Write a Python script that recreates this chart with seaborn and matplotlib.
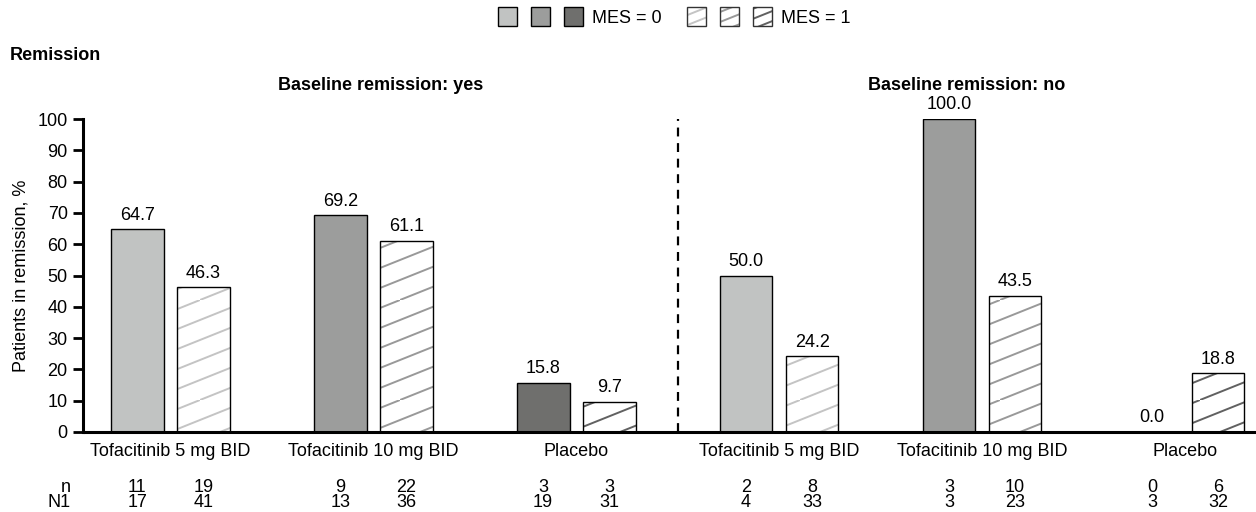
import matplotlib
matplotlib.use("Agg")
import numpy as np
import matplotlib.pyplot as plt
import matplotlib.hatch as mhatch
import matplotlib.transforms as mtransforms
from matplotlib.path import Path
from matplotlib.patches import Patch, Rectangle
from matplotlib.legend_handler import HandlerTuple
import pandas as pd
import seaborn as sns

# ---- data -------------------------------------------------------------
baseline = ["yes", "yes", "yes", "no", "no", "no"]
treatment = ["Tofacitinib 5 mg BID", "Tofacitinib 10 mg BID", "Placebo",
             "Tofacitinib 5 mg BID", "Tofacitinib 10 mg BID", "Placebo"]
mes0_pct = [64.7, 69.2, 15.8, 50.0, 100.0, 0.0]
mes1_pct = [46.3, 61.1, 9.7, 24.2, 43.5, 18.8]
mes0_n = [11, 9, 3, 2, 3, 0]
mes0_N1 = [17, 13, 19, 4, 3, 3]
mes1_n = [19, 22, 3, 8, 10, 6]
mes1_N1 = [41, 36, 31, 33, 23, 32]
mes_levels = ["MES = 0", "MES = 1"]
panel_titles = ["Baseline remission: yes", "Baseline remission: no"]


# ---- shallow diagonal hatch ('/' drawn at a low angle) --------------------
class ShallowDiagonalHatch(mhatch.HatchPatternBase):
    """'/' hatch with lines rising 2/5 of a tile per tile width, 5 per tile."""

    LINES = 5
    RISE = 2  # in units of 1/LINES

    def __init__(self, hatch, density):
        self.segments = []
        if hatch.count("/") == 0:
            self.num_vertices = 0
            return
        n = self.LINES * hatch.count("/")
        rise = self.RISE / n * hatch.count("/")
        for i in range(n):
            a = i / n
            b = a + rise
            if b <= 1.0 + 1e-9:
                self.segments.append(((0.0, a), (1.0, b)))
            else:
                xc = (1.0 - a) / rise
                self.segments.append(((0.0, a), (xc, 1.0)))
                self.segments.append(((xc, 0.0), (1.0, b - 1.0)))
        self.num_vertices = 2 * len(self.segments)

    def set_vertices_and_codes(self, vertices, codes):
        for k, (p0, p1) in enumerate(self.segments):
            vertices[2 * k] = p0
            vertices[2 * k + 1] = p1
        codes[0::2] = Path.MOVETO
        codes[1::2] = Path.LINETO


mhatch._hatch_types[:] = [
    ShallowDiagonalHatch if t is mhatch.NorthEastHatch else t
    for t in mhatch._hatch_types
]

# ---- styling ------------------------------------------------------------
solid_colors = ["#c1c3c2", "#9c9d9c", "#6f6f6d"]
hatch_colors = ["#c4c4c4", "#999999", "#616161"]

sns.set_style("ticks")
plt.rcParams["font.family"] = ["Liberation Sans", "DejaVu Sans"]
plt.rcParams.update({
    "text.color": "black", "axes.labelcolor": "black",
    "xtick.color": "black", "ytick.color": "black",
    "axes.edgecolor": "black", "hatch.linewidth": 1.4,
})
FS = 13

groups = [f"{b}: {t}" for b, t in zip(baseline, treatment)]
df = pd.DataFrame({
    "group": groups * 2,
    "mes": [mes_levels[0]] * 6 + [mes_levels[1]] * 6,
    "pct": mes0_pct + mes1_pct,
})

fig = plt.figure(figsize=(12.56, 5.12), dpi=100)
ax = fig.add_axes([83 / 1256, 1 - 432 / 512, 1 - 83 / 1256, 313 / 512])

sns.barplot(data=df, x="group", y="pct", hue="mes", order=groups,
            hue_order=mes_levels, width=0.65, gap=0.2, dodge=True,
            errorbar=None, legend=False, ax=ax)

bars0, bars1 = ax.containers[0], ax.containers[1]
for i, p in enumerate(bars0):
    p.set_facecolor(solid_colors[i % 3])
    p.set_edgecolor("black")
    p.set_linewidth(1.0)
for i, p in enumerate(bars1):
    p.set_facecolor("white")
    p.set_edgecolor(hatch_colors[i % 3])
    p.set_hatch("/")
    p.set_linewidth(0)
    # black outline over the hatched bar
    ax.add_patch(Rectangle((p.get_x(), p.get_y()), p.get_width(), p.get_height(),
                           fill=False, edgecolor="black", linewidth=1.0,
                           zorder=p.get_zorder() + 0.1))

ax.bar_label(bars0, labels=[f"{v:.1f}" for v in mes0_pct], padding=4, fontsize=FS)
ax.bar_label(bars1, labels=[f"{v:.1f}" for v in mes1_pct], padding=4, fontsize=FS)

# ---- axes -----------------------------------------------------------------
ax.set_ylim(0, 100)
ax.set_xlim(-0.43, 5.35)
ax.set_yticks(range(0, 101, 10))
ax.set_xticks(range(len(groups)))
ax.set_xticklabels(treatment)
ax.set_xlabel("")
ax.set_ylabel("Patients in remission, %", fontsize=FS, labelpad=6)
ax.tick_params(axis="y", length=7, width=2, pad=4, labelsize=FS, direction="out")
ax.tick_params(axis="x", length=0, pad=8, labelsize=FS)
for side in ["top", "right"]:
    ax.spines[side].set_visible(False)
ax.spines["left"].set_linewidth(2.2)
ax.spines["bottom"].set_linewidth(2.2)
ax.spines["bottom"].set_capstyle("butt")
ax.patch.set_alpha(0)

# panel divider
ax.vlines(2.5, 0, 100, colors="black", linestyles=(0, (4, 3)), linewidth=1.6)

# ---- n / N1 rows below the axis --------------------------------------------
trans = mtransforms.blended_transform_factory(ax.transData, ax.transAxes)
row_y = {"n": -0.176, "N1": -0.224}
ax.text(-0.49, row_y["n"], "n", transform=trans, ha="right", va="center", fontsize=FS)
ax.text(-0.49, row_y["N1"], "N1", transform=trans, ha="right", va="center", fontsize=FS)
for bars, ns, n1s in [(bars0, mes0_n, mes0_N1), (bars1, mes1_n, mes1_N1)]:
    for p, n, n1 in zip(bars, ns, n1s):
        cx = p.get_x() + p.get_width() / 2
        ax.text(cx, row_y["n"], str(n), transform=trans, ha="center", va="center", fontsize=FS)
        ax.text(cx, row_y["N1"], str(n1), transform=trans, ha="center", va="center", fontsize=FS)

# ---- titles ------------------------------------------------------------------
fig.text(10 / 1256, 1 - 55 / 512, "Remission", fontsize=FS, fontweight="bold",
         ha="left", va="center")
xl, xr = ax.get_xlim()
title_trans = mtransforms.blended_transform_factory(ax.transData, fig.transFigure)
fig.text((xl + 2.5) / 2, 1 - 85 / 512, panel_titles[0], fontsize=FS, fontweight="bold",
         ha="center", va="center", transform=title_trans)
fig.text((2.5 + xr) / 2, 1 - 85 / 512, panel_titles[1], fontsize=FS, fontweight="bold",
         ha="center", va="center", transform=title_trans)


# ---- legend --------------------------------------------------------------------
class Stack(tuple):
    """Handles drawn on top of each other inside one legend slot."""


solid_handles = tuple(Patch(facecolor=c, edgecolor="black", linewidth=1.0) for c in solid_colors)
hatched_handles = tuple(
    Stack((Patch(facecolor="white", edgecolor=c, hatch="//", linewidth=0),
           Patch(facecolor="none", edgecolor="#333333", linewidth=1.0)))
    for c in hatch_colors)
fig.legend([solid_handles, hatched_handles], mes_levels,
           handler_map={Stack: HandlerTuple(ndivide=1, pad=0),
                        tuple: HandlerTuple(ndivide=None, pad=0.78)},
           loc="center", bbox_to_anchor=(0.537, 1 - 17 / 512), ncol=2, frameon=False,
           fontsize=FS, handlelength=4.7, handleheight=1.25, handletextpad=0.5,
           columnspacing=1.4)

fig.savefig("out.png", dpi=100)
